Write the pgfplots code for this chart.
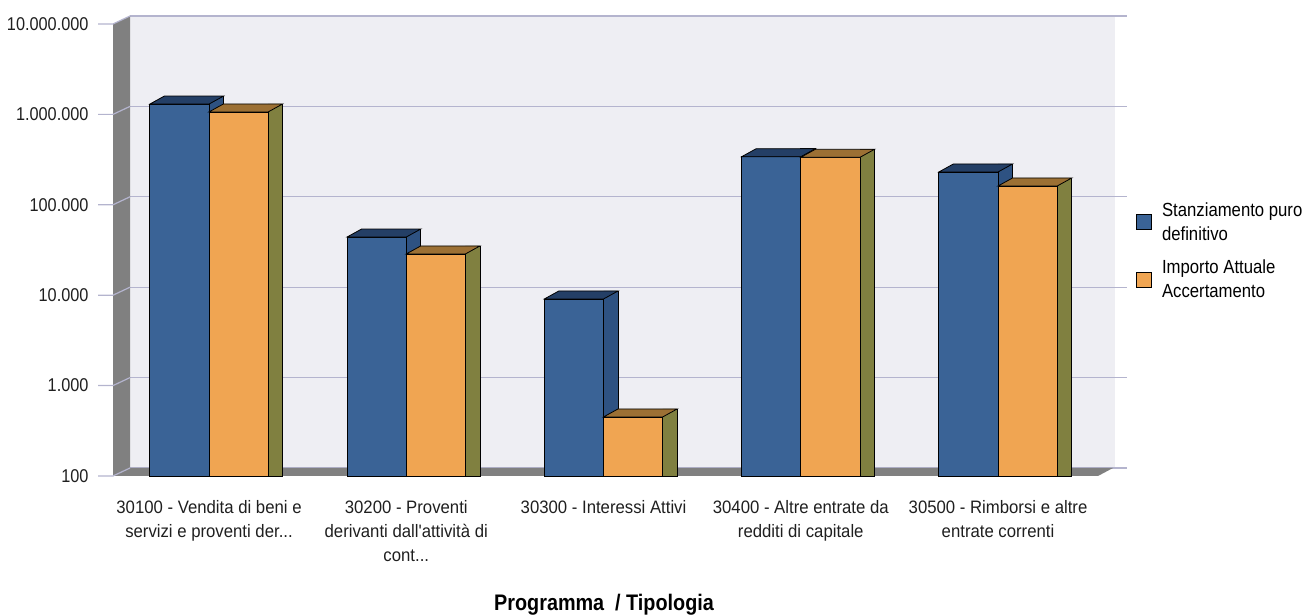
\documentclass[border=0pt]{standalone}
\usepackage{pgfplots}
\usepackage{pgfplotstable}
\pgfplotsset{compat=1.18}
\usepackage{fontspec}
\setmainfont{Liberation Sans}[FakeStretch=0.88]
\newfontfamily\catfont{Liberation Sans}[FakeStretch=0.93]
\newcommand{\ddd}{...}
\definecolor{blueFront}{HTML}{3A6396}
\definecolor{blueTop}{HTML}{243F66}
\definecolor{blueSide}{HTML}{2E5282}
\definecolor{orangeFront}{HTML}{F0A552}
\definecolor{orangeTop}{HTML}{9C7034}
\definecolor{orangeSide}{HTML}{808040}
\definecolor{wallc}{HTML}{EEEEF3}
\definecolor{gridc}{HTML}{B4B4CE}
\definecolor{wallgray}{HTML}{808080}
\pgfdeclareplotmark{topface}{%
  \pgfpathmoveto{\pgfqpoint{-29.6pt}{0pt}}%
  \pgfpathlineto{\pgfqpoint{-15.1pt}{8pt}}%
  \pgfpathlineto{\pgfqpoint{44.1pt}{8pt}}%
  \pgfpathlineto{\pgfqpoint{29.6pt}{0pt}}%
  \pgfpathclose
  \pgfusepathqfillstroke}
\pgfplotstableread{
x a b
0 1300000 1065000
1 44000 28600
2 9080 450
3 340000 335000
4 230600 161400
}\data
\begin{document}
\begin{tikzpicture}
\useasboundingbox (0,0) rectangle (1308pt,615pt);
\fill[wallc] (130pt,147pt) rectangle (1115pt,599pt);
\begin{axis}[at={(130pt,147pt)}, anchor=south west, scale only axis,
  width=997pt, height=452pt, ymode=log, ymin=100, ymax=1e7, xmin=0, xmax=1,
  ytick={100,1000,10000,100000,1000000,10000000}, yticklabels={},
  yminorticks=false, tick pos=left, tick style={draw=none},
  xtick=\empty, ymajorgrids, grid style={gridc, line width=1.2pt},
  major tick length=0pt, minor tick length=0pt, axis line style={draw=none}]
\end{axis}
\fill[wallgray] (113pt,139pt) -- (130pt,147pt) -- (130pt,599pt) -- (113pt,591pt) -- cycle;
\fill[wallgray] (113pt,139pt) -- (1098pt,139pt) -- (1113pt,147pt) -- (130pt,147pt) -- cycle;
\foreach \y in {139,229.4,319.8,410.2,500.6,591}
  \draw[gridc, line width=1.2pt] (98pt,\y pt) -- (113pt,\y pt) -- (130pt,{\y pt+8pt});
\begin{axis}[at={(113pt,139pt)}, anchor=south west, scale only axis,
  width=987pt, height=452pt, ymode=log, log origin=infty,
  ymin=100, ymax=1e7, xmin=-0.4867, xmax=4.517, clip=false,
  axis line style={draw=none}, tick pos=left, yminorticks=false,
  ytick={100,1000,10000,100000,1000000,10000000},
  yticklabels={100,1.000,10.000,100.000,1.000.000,10.000.000},
  y tick label style={font=\fontsize{18.5}{20}\selectfont, text=black!88, xshift=-6pt},
  ytick style={draw=none},
  tick align=outside, major tick length=15pt,
  xtick={0,1,2,3,4},
  xticklabels={{30100 - Vendita di beni e\\servizi e proventi der\ddd},
    {30200 - Proventi\\derivanti dall'attività di\\cont\ddd},
    {30300 - Interessi Attivi},
    {30400 - Altre entrate da\\redditi di capitale},
    {30500 - Rimborsi e altre\\entrate correnti}},
  xtick style={draw=none},
  x tick label style={font=\catfont\fontsize{18}{24}\selectfont, align=center, yshift=-6pt, text=black!88},
  xlabel={Programma\ \ / Tipologia},
  xlabel style={font=\fontsize{22.5}{26}\selectfont\bfseries, at={(axis description cs:0.4975,-0.2854)}, anchor=center},
  legend style={at={(axis description cs:1.0365,0.498)}, anchor=west, draw=none, fill=none,
    font=\fontsize{19}{24}\selectfont, row sep=14pt, inner sep=0pt, cells={align=left},
    /tikz/every odd column/.append style={column sep=8pt}},
  legend cell align=left,
  legend image code/.code={\draw[#1,/tikz/.cd,draw=black,line width=0.8pt] (0pt,-7.5pt) rectangle (15pt,7.5pt);}
]
\addplot[ybar, bar width=0.0735, bar shift=0.03675, fill=blueSide, draw=black, line width=0.8pt, forget plot]
  table[x=x, y expr=\thisrow{a}*1.226] {\data};
\addplot[only marks, mark=topface, fill=blueTop, draw=black, line width=0.8pt, forget plot]
  table[x expr=\thisrow{x}-0.15, y=a] {\data};
\addplot[ybar, bar width=0.3, bar shift=-0.15, fill=blueFront, draw=black, line width=0.8pt]
  table[x=x, y=a] {\data};
\addlegendentry{Stanziamento puro\\definitivo}
\addplot[ybar, bar width=0.0735, bar shift=0.33675, fill=orangeSide, draw=black, line width=0.8pt, forget plot]
  table[x=x, y expr=\thisrow{b}*1.226] {\data};
\addplot[only marks, mark=topface, fill=orangeTop, draw=black, line width=0.8pt, forget plot]
  table[x expr=\thisrow{x}+0.15, y=b] {\data};
\addplot[ybar, bar width=0.3, bar shift=0.15, fill=orangeFront, draw=black, line width=0.8pt]
  table[x=x, y=b] {\data};
\addlegendentry{Importo Attuale\\Accertamento}
\end{axis}
\end{tikzpicture}
\end{document}
